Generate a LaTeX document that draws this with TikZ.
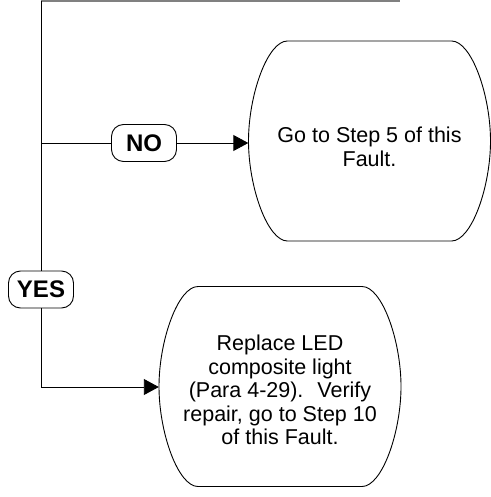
\documentclass[tikz,border=0pt]{standalone}
\usepackage{fontspec}
\setmainfont{Liberation Sans}
\usetikzlibrary{arrows.meta}
\tikzset{
  conn/.style={line width=0.9pt, black},
  arr/.style={conn, -{Triangle[length=15pt,width=16pt]}},
  answer/.style={draw, line width=0.9pt, rounded corners=12pt, minimum width=65pt, minimum height=37pt, inner sep=0pt, font=\fontsize{24}{26}\selectfont\bfseries},
  actbox/.style={minimum width=242pt, minimum height=200pt, inner sep=0pt},
  acttext/.style={align=center, inner sep=0pt, font=\fontsize{21.5}{23.5}\selectfont},
  bulge/.style={line width=0.9pt, black}
}
\newcommand{\bulgeshape}[1]{%
  \draw[bulge, shift={(#1.center)}] (-82,-100) -- (82,-100)
    .. controls (102,-100) and (121,-46) .. (121,0)
    .. controls (121,46) and (102,100) .. (82,100)
    -- (-82,100)
    .. controls (-102,100) and (-121,46) .. (-121,0)
    .. controls (-121,-46) and (-102,-100) .. (-82,-100) -- cycle;}
\begin{document}
\begin{tikzpicture}[x=1pt,y=-1pt]
\useasboundingbox (0,0) rectangle (490,497);
% nodes
\node[answer] (no) at (144,143) {NO};
\node[answer] (yes) at (41,289.5) {YES};
\node[actbox] (go) at (369.5,141) {};
\node[acttext] (gotext) at ([yshift=-6pt]go.center) {Go to Step 5 of this\\Fault.};
\node[actbox] (rep) at (280,386.5) {};
\node[acttext] (reptext) at ([yshift=-3.5pt]rep.center) {Replace LED\\composite light\\ (Para 4-29).~ Verify\\repair, go to Step 10\\of this Fault.};
\bulgeshape{go}
\bulgeshape{rep}
% coordinates
\coordinate (topl) at (41,0.8);
\coordinate (topr) at (400,0.8);
\coordinate (br) at (41,143);
\coordinate (corner) at (41,387);
% connectors
\draw[line width=1.6pt, black!50] (topl) -- (topr);
\draw[conn] (topl) -- (yes.north);
\draw[conn] (br) -- (no.west);
\draw[arr] (no.east) -- (no.east -| go.west);
\draw[conn] (yes.south) -- (corner);
\draw[arr] (corner) -- (corner -| rep.west);
\end{tikzpicture}
\end{document}
